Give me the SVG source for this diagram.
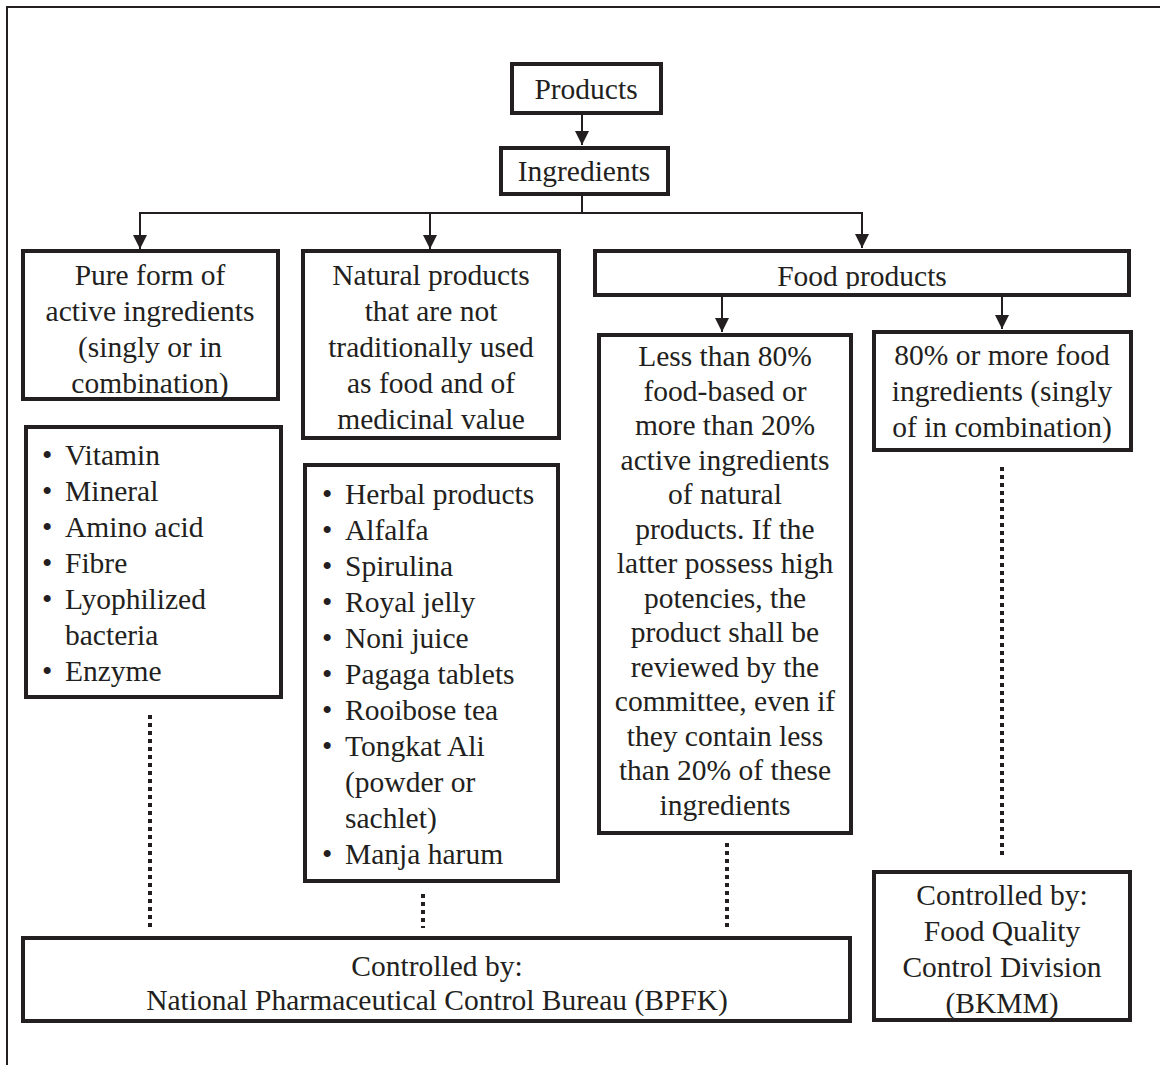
<svg xmlns="http://www.w3.org/2000/svg" width="1160" height="1065" viewBox="0 0 1160 1065">
<style>
.box{fill:#fff;stroke:#231f20;stroke-width:4}
.t{font-family:'Liberation Serif','Tinos','Times New Roman',serif;font-size:29.5px;fill:#231f20}
.c{text-anchor:middle}
.ln{stroke:#231f20;stroke-width:2;fill:none}
.dot{stroke:#231f20;stroke-width:4;stroke-dasharray:4 4;fill:none}
</style>
<defs>
<marker id="ah" viewBox="0 0 14 14" refX="14" refY="7" markerWidth="14" markerHeight="14" markerUnits="userSpaceOnUse" orient="auto">
<path d="M0,0 L14,7 L0,14 z" fill="#231f20"/>
</marker>
<clipPath id="fpclip"><rect x="595" y="251" width="534" height="38"/></clipPath>
</defs>
<rect width="1160" height="1065" fill="#fff"/>
<g id="frame">
<line class="ln" x1="7" y1="7" x2="1160" y2="7"/>
<line class="ln" x1="7" y1="6" x2="7" y2="1065"/>
</g>
<g id="connectors">
<line class="ln" x1="582" y1="115" x2="582" y2="145" marker-end="url(#ah)"/>
<line class="ln" x1="582" y1="196" x2="582" y2="213"/>
<line class="ln" x1="139" y1="213" x2="863" y2="213"/>
<line class="ln" x1="140" y1="213" x2="140" y2="249" marker-end="url(#ah)"/>
<line class="ln" x1="430" y1="213" x2="430" y2="249" marker-end="url(#ah)"/>
<line class="ln" x1="862" y1="213" x2="862" y2="248" marker-end="url(#ah)"/>
<line class="ln" x1="722" y1="297" x2="722" y2="332" marker-end="url(#ah)"/>
<line class="ln" x1="1002" y1="297" x2="1002" y2="329" marker-end="url(#ah)"/>
<line class="dot" x1="150" y1="715" x2="150" y2="928"/>
<line class="dot" x1="423" y1="894" x2="423" y2="928"/>
<line class="dot" x1="727" y1="843" x2="727" y2="928"/>
<line class="dot" x1="1002" y1="467" x2="1002" y2="855"/>
</g>
<g id="products">
<rect class="box" x="512" y="64" width="149" height="49"/>
<text class="t c" x="586" y="99">Products</text>
</g>
<g id="ingredients">
<rect class="box" x="501" y="148" width="167" height="46"/>
<text class="t c" x="584" y="181">Ingredients</text>
</g>
<g id="pure-form">
<rect class="box" x="23" y="251" width="255" height="148"/>
<text class="t c" x="150" y="285">Pure form of</text>
<text class="t c" x="150" y="321">active ingredients</text>
<text class="t c" x="150" y="357">(singly or in</text>
<text class="t c" x="150" y="393">combination)</text>
</g>
<g id="natural-products">
<rect class="box" x="303" y="251" width="256" height="187"/>
<text class="t c" x="431" y="285">Natural products</text>
<text class="t c" x="431" y="321">that are not</text>
<text class="t c" x="431" y="357">traditionally used</text>
<text class="t c" x="431" y="393">as food and of</text>
<text class="t c" x="431" y="429">medicinal value</text>
</g>
<g id="food-products">
<rect class="box" x="595" y="251" width="534" height="44"/>
<text class="t c" x="862" y="286" clip-path="url(#fpclip)">Food products</text>
</g>
<g id="less-than-80">
<rect class="box" x="599" y="335" width="252" height="498"/>
<text class="t c" x="725" y="366">Less than 80%</text>
<text class="t c" x="725" y="400.5">food-based or</text>
<text class="t c" x="725" y="435">more than 20%</text>
<text class="t c" x="725" y="469.5">active ingredients</text>
<text class="t c" x="725" y="504">of natural</text>
<text class="t c" x="725" y="538.5">products. If the</text>
<text class="t c" x="725" y="573">latter possess high</text>
<text class="t c" x="725" y="607.5">potencies, the</text>
<text class="t c" x="725" y="642">product shall be</text>
<text class="t c" x="725" y="676.5">reviewed by the</text>
<text class="t c" x="725" y="711">committee, even if</text>
<text class="t c" x="725" y="745.5">they contain less</text>
<text class="t c" x="725" y="780">than 20% of these</text>
<text class="t c" x="725" y="814.5">ingredients</text>
</g>
<g id="eighty-or-more">
<rect class="box" x="874" y="332" width="257" height="118"/>
<text class="t c" x="1002" y="365">80% or more food</text>
<text class="t c" x="1002" y="401">ingredients (singly</text>
<text class="t c" x="1002" y="437">of in combination)</text>
</g>
<g id="active-list">
<rect class="box" x="26" y="427" width="255" height="270"/>
<text class="t"><tspan x="42" y="465">•</tspan><tspan x="65" y="465">Vitamin</tspan></text>
<text class="t"><tspan x="42" y="501">•</tspan><tspan x="65" y="501">Mineral</tspan></text>
<text class="t"><tspan x="42" y="537">•</tspan><tspan x="65" y="537">Amino acid</tspan></text>
<text class="t"><tspan x="42" y="573">•</tspan><tspan x="65" y="573">Fibre</tspan></text>
<text class="t"><tspan x="42" y="609">•</tspan><tspan x="65" y="609">Lyophilized</tspan></text>
<text class="t"><tspan x="65" y="645">bacteria</tspan></text>
<text class="t"><tspan x="42" y="681">•</tspan><tspan x="65" y="681">Enzyme</tspan></text>
</g>
<g id="natural-list">
<rect class="box" x="305" y="465" width="253" height="416"/>
<text class="t"><tspan x="322" y="504">•</tspan><tspan x="345" y="504">Herbal products</tspan></text>
<text class="t"><tspan x="322" y="540">•</tspan><tspan x="345" y="540">Alfalfa</tspan></text>
<text class="t"><tspan x="322" y="576">•</tspan><tspan x="345" y="576">Spirulina</tspan></text>
<text class="t"><tspan x="322" y="612">•</tspan><tspan x="345" y="612">Royal jelly</tspan></text>
<text class="t"><tspan x="322" y="648">•</tspan><tspan x="345" y="648">Noni juice</tspan></text>
<text class="t"><tspan x="322" y="684">•</tspan><tspan x="345" y="684">Pagaga tablets</tspan></text>
<text class="t"><tspan x="322" y="720">•</tspan><tspan x="345" y="720">Rooibose tea</tspan></text>
<text class="t"><tspan x="322" y="756">•</tspan><tspan x="345" y="756">Tongkat Ali</tspan></text>
<text class="t"><tspan x="345" y="792">(powder or</tspan></text>
<text class="t"><tspan x="345" y="828">sachlet)</tspan></text>
<text class="t"><tspan x="322" y="864">•</tspan><tspan x="345" y="864">Manja harum</tspan></text>
</g>
<g id="bpfk">
<rect class="box" x="23" y="938" width="827" height="83"/>
<text class="t c" x="437" y="976">Controlled by:</text>
<text class="t c" x="437" y="1010">National Pharmaceutical Control Bureau (BPFK)</text>
</g>
<g id="bkmm">
<rect class="box" x="874" y="872" width="256" height="148"/>
<text class="t c" x="1002" y="905">Controlled by:</text>
<text class="t c" x="1002" y="941">Food Quality</text>
<text class="t c" x="1002" y="977">Control Division</text>
<text class="t c" x="1002" y="1013">(BKMM)</text>
</g>
</svg>
